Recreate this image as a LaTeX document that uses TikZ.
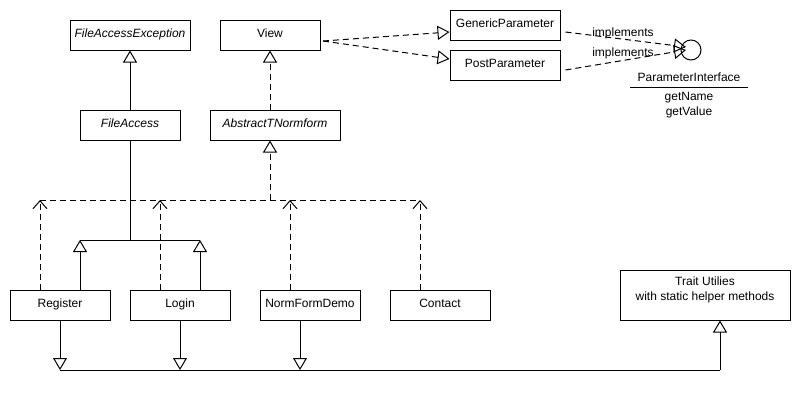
\documentclass[tikz,border=0pt]{standalone}
\usepackage{fontspec}
\setmainfont{Liberation Sans}
\usetikzlibrary{arrows.meta,calc}

\begin{document}
\begin{tikzpicture}[x=0.75pt,y=-0.75pt,
  line width=0.75pt,
  every node/.style={font=\fontsize{9}{11}\selectfont, inner sep=0pt},
  cls/.style={draw, rectangle, minimum height=22.5pt, align=center,
    text height=6.5pt, text depth=3pt},
  abstr/.style={cls, font=\fontsize{9}{11}\selectfont\itshape},
  gen/.style={-{Triangle[open,length=9pt,width=10.5pt]}},
  dep/.style={dash pattern=on 4.5pt off 3pt},
  real/.style={dep, gen},
  use/.style={dep, -{Straight Barb[length=6pt,width=10.5pt]}},
  lbl/.style={font=\fontsize{9}{11}\selectfont}
]
\useasboundingbox (0,0) rectangle (800,400);

% class boxes
\node[abstr, minimum width=90pt]   (fae)  at (130,35)  {FileAccessException};
\node[cls,   minimum width=75pt]   (view) at (270,35)  {View};
\node[abstr, minimum width=75pt]   (fa)   at (130,125) {FileAccess};
\node[abstr, minimum width=97.5pt] (atn)  at (275,125) {AbstractTNormform};
\node[cls,   minimum width=82.5pt] (gp)   at (505,25)  {GenericParameter};
\node[cls,   minimum width=82.5pt] (pp)   at (505,65)  {PostParameter};
\node[cls,   minimum width=75pt]   (reg)  at (60,305)  {Register};
\node[cls,   minimum width=75pt]   (login) at (180,305) {Login};
\node[cls,   minimum width=75pt]   (nfd)  at (310,305) {NormFormDemo};
\node[cls,   minimum width=75pt]   (contact) at (440,305) {Contact};
\node[draw, rectangle, minimum width=127.5pt, minimum height=37.5pt] (trait) at (705,295) {};
\node[lbl, align=center] (traittext) at (705,290)
  {Trait Utilies\\with static helper methods};

% interface in lollipop notation
\node[draw, circle, minimum size=15pt] (iface) at (691,50) {};
\node[lbl] (ifname) at (689,77) {ParameterInterface};
\coordinate (ifl) at (630,87);
\coordinate (ifr) at (748,87);
\draw (ifl) -- (ifr);
\node[lbl] (m1) at (689,98)  {getName};
\node[lbl] (m2) at (689,112) {getValue};

% View -> parameters
\coordinate (vout) at (323,41);
\draw[real] (vout) -- ($(gp.west)+(0,7)$);
\draw[real] (vout) -- ($(pp.west)+(0,-6)$);

% parameters implement the interface
\coordinate (ig) at (686,47);
\coordinate (ip) at (686,50);
\draw[real] ($(gp.east)+(5,7)$) -- (ig);
\draw[real] ($(pp.east)+(5,5)$) -- (ip);
\node[lbl] (impl1) at (623,33) {implements};
\node[lbl] (impl2) at (623,53) {implements};

% inheritance chain
\draw[gen] (fa) -- (fae);
\draw[real] ($(atn.north)+(-5,0)$) -- (view.south);

% FileAccess subclasses
\coordinate (fj)  at (130,240);
\coordinate (fjl) at (80,240);
\coordinate (fjr) at (200,240);
\draw (fa.south) -- (fj);
\draw (fjl) -- (fjr);
\draw[gen] ($(reg.north)+(20,0)$) -- (fjl);
\draw[gen] ($(login.north)+(20,0)$) -- (fjr);

% AbstractTNormform realisations
\coordinate (dj)  at (270,200);
\coordinate (djl) at (40,200);
\coordinate (djr) at (420,200);
\draw[real] (dj) -- ($(atn.south)+(-5,0)$);
\draw[dep] (djl) -- (djr);
\draw[use] ($(reg.north)+(-20,0)$) -- (djl);
\draw[use] ($(login.north)+(-20,0)$) -- (160,200);
\draw[use] ($(nfd.north)+(-20,0)$) -- (290,200);
\draw[use] ($(contact.north)+(-20,0)$) -- (djr);

% trait usage
\coordinate (b1) at (60,370);
\coordinate (b2) at (180,370);
\coordinate (b3) at (300,370);
\coordinate (b4) at (720,370);
\draw[gen] (reg.south) -- (b1);
\draw[gen] (login.south) -- (b2);
\draw[gen] ($(nfd.south)+(-10,0)$) -- (b3);
\draw (b1) -- (b4);
\draw[gen] (b4) -- ($(trait.south)+(15,0)$);
\end{tikzpicture}
\end{document}
